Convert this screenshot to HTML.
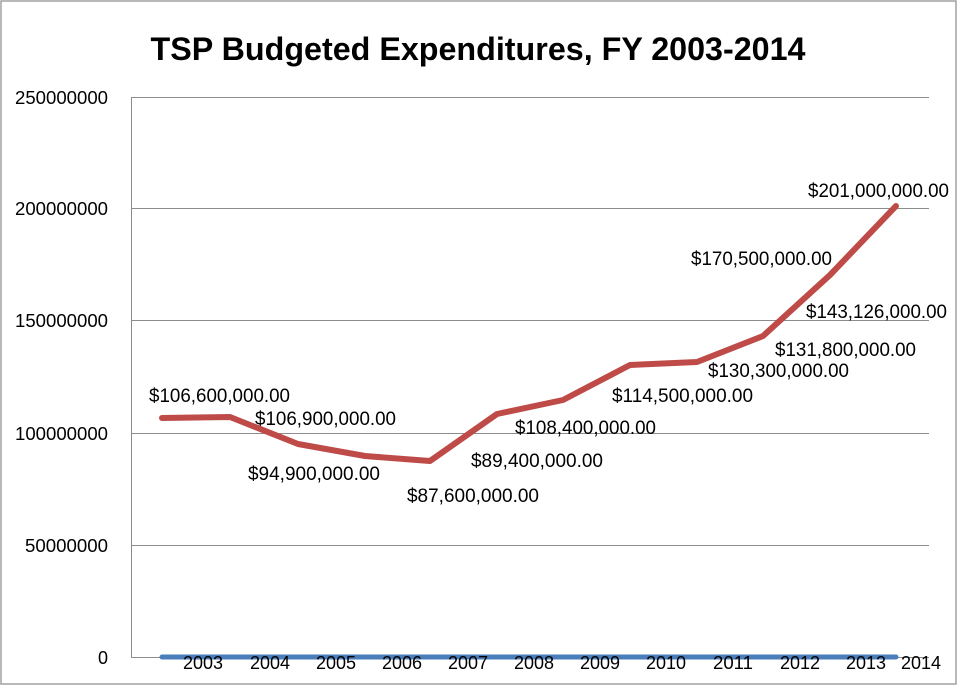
<!DOCTYPE html>
<html><head><style>body{margin:0;background:#fff}svg{display:block}text{font-family:"Liberation Sans",sans-serif;fill:#000}</style></head><body>
<svg width="958" height="686" xmlns="http://www.w3.org/2000/svg">
<rect x="1" y="1" width="955" height="683" fill="#fff" stroke="#a0a0a0" stroke-width="1.5"/>
<text x="478" y="60" text-anchor="middle" font-size="32" font-weight="bold" textLength="655" lengthAdjust="spacingAndGlyphs">TSP Budgeted Expenditures, FY 2003-2014</text>
<g stroke="#8c8c8c" stroke-width="1">
<line x1="131" y1="97.5" x2="929" y2="97.5"/>
<line x1="131" y1="208.5" x2="929" y2="208.5"/>
<line x1="131" y1="320.5" x2="929" y2="320.5"/>
<line x1="131" y1="433.5" x2="929" y2="433.5"/>
<line x1="131" y1="545.5" x2="929" y2="545.5"/>
<line x1="131" y1="657.5" x2="929" y2="657.5"/>
<line x1="131.5" y1="97" x2="131.5" y2="658"/>
</g>
<g font-size="18" text-anchor="end">
<text x="108" y="104" textLength="93" lengthAdjust="spacingAndGlyphs">250000000</text>
<text x="108" y="215" textLength="93" lengthAdjust="spacingAndGlyphs">200000000</text>
<text x="108" y="327" textLength="93" lengthAdjust="spacingAndGlyphs">150000000</text>
<text x="108" y="440" textLength="93" lengthAdjust="spacingAndGlyphs">100000000</text>
<text x="108" y="552" textLength="83" lengthAdjust="spacingAndGlyphs">50000000</text>
<text x="108" y="664">0</text>
</g>
<line x1="162" y1="657" x2="896" y2="657" stroke="#4a7ebb" stroke-width="5" stroke-linecap="round"/>
<polyline fill="none" stroke="#be4b48" stroke-width="6" stroke-linejoin="round" stroke-linecap="round" points="162,418 230,417 298,444 365,456 430,461 497,414 563,400 630,365 697,362 763,336 830,275 896,206"/>
<g font-size="18" text-anchor="middle">
<text x="203" y="669" textLength="40" lengthAdjust="spacingAndGlyphs">2003</text><text x="270" y="669" textLength="40" lengthAdjust="spacingAndGlyphs">2004</text><text x="336" y="669" textLength="40" lengthAdjust="spacingAndGlyphs">2005</text><text x="402" y="669" textLength="40" lengthAdjust="spacingAndGlyphs">2006</text><text x="468" y="669" textLength="40" lengthAdjust="spacingAndGlyphs">2007</text><text x="534" y="669" textLength="40" lengthAdjust="spacingAndGlyphs">2008</text><text x="600" y="669" textLength="40" lengthAdjust="spacingAndGlyphs">2009</text><text x="666" y="669" textLength="40" lengthAdjust="spacingAndGlyphs">2010</text><text x="733" y="669" textLength="40" lengthAdjust="spacingAndGlyphs">2011</text><text x="800" y="669" textLength="40" lengthAdjust="spacingAndGlyphs">2012</text><text x="866" y="669" textLength="40" lengthAdjust="spacingAndGlyphs">2013</text><text x="921" y="669" textLength="40" lengthAdjust="spacingAndGlyphs">2014</text>
</g>
<g font-size="19">
<text x="149" y="402" textLength="141" lengthAdjust="spacingAndGlyphs">$106,600,000.00</text>
<text x="255" y="425" textLength="141" lengthAdjust="spacingAndGlyphs">$106,900,000.00</text>
<text x="248" y="480" textLength="132" lengthAdjust="spacingAndGlyphs">$94,900,000.00</text>
<text x="407" y="502" textLength="132" lengthAdjust="spacingAndGlyphs">$87,600,000.00</text>
<text x="471" y="467" textLength="132" lengthAdjust="spacingAndGlyphs">$89,400,000.00</text>
<text x="515" y="434" textLength="141" lengthAdjust="spacingAndGlyphs">$108,400,000.00</text>
<text x="612" y="402" textLength="141" lengthAdjust="spacingAndGlyphs">$114,500,000.00</text>
<text x="708" y="377" textLength="141" lengthAdjust="spacingAndGlyphs">$130,300,000.00</text>
<text x="775" y="356" textLength="141" lengthAdjust="spacingAndGlyphs">$131,800,000.00</text>
<text x="806" y="318" textLength="141" lengthAdjust="spacingAndGlyphs">$143,126,000.00</text>
<text x="691" y="265" textLength="141" lengthAdjust="spacingAndGlyphs">$170,500,000.00</text>
<text x="808" y="197" textLength="141" lengthAdjust="spacingAndGlyphs">$201,000,000.00</text>
</g>
</svg>
</body></html>
